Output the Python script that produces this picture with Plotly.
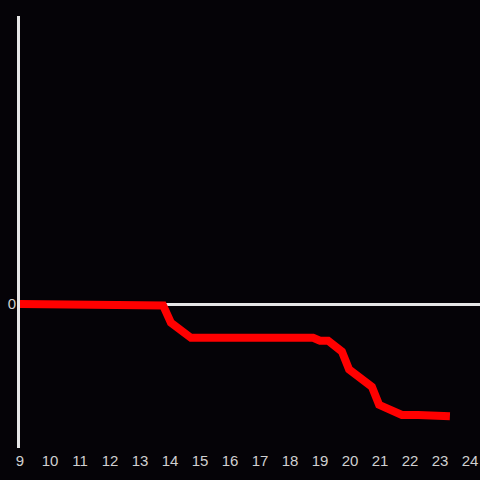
import plotly.graph_objects as go

hours = [9, 13.33, 13.77, 14.03, 14.7, 18.77, 19.0, 19.27, 19.73, 19.97, 20.73, 20.97,
         21.33, 21.73, 22.27, 22.73, 23.33]
values = [0, 0, -0.01, -0.13, -0.235, -0.235, -0.255, -0.255, -0.33, -0.455, -0.575, -0.70,
          -0.73, -0.77, -0.77, -0.78, -0.78]
x_ticks = list(range(9, 25))

fig = go.Figure()
fig.add_trace(go.Scatter(x=hours, y=values, mode="lines",
                         line=dict(color="#ff0000", width=8), hoverinfo="skip"))

fig.update_layout(
    width=480, height=480,
    margin=dict(l=20, r=0, t=16, b=32),
    paper_bgcolor="#050307", plot_bgcolor="#050307",
    showlegend=False,
    font=dict(family="Liberation Sans, Arial, sans-serif", size=15, color="#d0d0d0"),
    xaxis=dict(range=[9, 9 + 460 / 30], tickvals=x_ticks, ticktext=[str(t) for t in x_ticks],
               showgrid=False, zeroline=False, showline=False, ticks="", automargin=False,
               ticklabelstandoff=2),
    yaxis=dict(range=[-1, 2], tickvals=[0], ticktext=["0"], showgrid=False,
               zeroline=True, zerolinecolor="#e6e6e6", zerolinewidth=3,
               showline=True, linecolor="#e6e6e6", linewidth=3, ticks="", automargin=False,
               ticklabelstandoff=-2),
)
fig.write_html("out.html", config={"displayModeBar": False},
               post_script="document.body.style.margin='0';document.body.style.background='#050307';")
